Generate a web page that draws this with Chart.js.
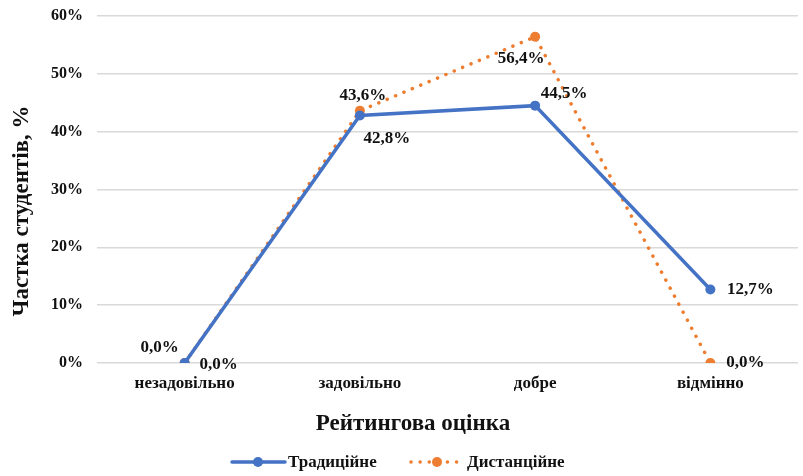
<!DOCTYPE html>
<html>
<head>
<meta charset="utf-8">
<script src="https://cdn.jsdelivr.net/npm/chart.js@4"></script>
<style>
  html, body { margin: 0; padding: 0; background: #fff; }
  #wrap { width: 803px; height: 476px; position: relative; }
</style>
</head>
<body>
<div id="wrap"><canvas id="c"></canvas></div>
<script>
const categories = ['незадовільно', 'задовільно', 'добре', 'відмінно'];
const traditional = [0.0, 42.8, 44.5, 12.7];
const distance = [0.0, 43.6, 56.4, 0.0];
const seriesNames = ['Традиційне', 'Дистанційне'];
const yTicks = [0, 10, 20, 30, 40, 50, 60];
const xTitle = 'Рейтингова оцінка';
const yTitle = 'Частка студентів, %';

const BLUE = '#4472C4';
const ORANGE = '#ED7D31';
const INK = '#111';
const SERIF = '"Liberation Serif", "Times New Roman", serif';

// value label offsets from each point: [dx, dy]
const labelPos = [
  [[-25, -15], [27, 23], [29, -12], [40, 0]],
  [[34, 2], [3, -15], [-14, 22], [35, 0]]
];

const fmt = v => v.toFixed(1).replace('.', ',') + '%';

const dataLabels = {
  id: 'dataLabels',
  afterDatasetsDraw(chart) {
    const ctx = chart.ctx;
    ctx.save();
    ctx.font = 'bold 17px ' + SERIF;
    ctx.fillStyle = INK;
    ctx.textAlign = 'center';
    ctx.textBaseline = 'middle';
    chart.data.datasets.forEach((ds, di) => {
      chart.getDatasetMeta(di).data.forEach((pt, i) => {
        const [dx, dy] = labelPos[di][i];
        ctx.fillText(fmt(ds.data[i]), pt.x + dx, pt.y + dy);
      });
    });
    ctx.restore();
  }
};

// axis titles and the legend (line + marker swatches)
const decorations = {
  id: 'decorations',
  afterDraw(chart) {
    const ctx = chart.ctx;
    ctx.save();
    ctx.fillStyle = INK;
    ctx.font = 'bold 23px ' + SERIF;
    ctx.textAlign = 'center';
    ctx.textBaseline = 'middle';
    ctx.fillText(xTitle, 413, 424);
    ctx.save();
    ctx.translate(22, 211);
    ctx.rotate(-Math.PI / 2);
    ctx.fillText(yTitle, 0, 0);
    ctx.restore();

    const y = 462;
    const items = [
      { x: 232, color: BLUE, dash: [], label: seriesNames[0] },
      { x: 411, color: ORANGE, dash: [0.1, 9], label: seriesNames[1] }
    ];
    items.forEach(it => {
      ctx.strokeStyle = it.color;
      ctx.lineWidth = 3.5;
      ctx.lineCap = 'round';
      ctx.setLineDash(it.dash);
      ctx.beginPath();
      ctx.moveTo(it.x, y);
      ctx.lineTo(it.x + 53, y);
      ctx.stroke();
      ctx.setLineDash([]);
      ctx.fillStyle = it.color;
      ctx.beginPath();
      ctx.arc(it.x + 26, y, 5, 0, Math.PI * 2);
      ctx.fill();
      ctx.fillStyle = INK;
      ctx.font = 'bold 17px ' + SERIF;
      ctx.textAlign = 'left';
      ctx.fillText(it.label, it.x + 56, y + 1);
    });
    ctx.restore();
  }
};

new Chart(document.getElementById('c'), {
  type: 'line',
  data: {
    labels: categories,
    datasets: [
      {
        label: seriesNames[0],
        data: traditional,
        borderColor: BLUE,
        backgroundColor: BLUE,
        borderWidth: 3.5,
        pointRadius: 5,
        pointHoverRadius: 5,
        pointBorderWidth: 0,
        tension: 0
      },
      {
        label: seriesNames[1],
        data: distance,
        borderColor: ORANGE,
        backgroundColor: ORANGE,
        borderWidth: 3.5,
        borderDash: [0.1, 9],
        borderCapStyle: 'round',
        pointRadius: 5,
        pointHoverRadius: 5,
        pointBorderWidth: 0,
        tension: 0
      }
    ]
  },
  options: {
    responsive: true,
    maintainAspectRatio: false,
    animation: false,
    layout: { padding: { top: 16, right: 3, bottom: 0, left: 0 } },
    plugins: {
      legend: { display: false },
      tooltip: { enabled: false }
    },
    scales: {
      x: {
        offset: true,
        grid: { display: false },
        border: { display: false },
        ticks: { color: INK, font: { family: SERIF, size: 17, weight: 'bold' }, padding: 2, maxRotation: 0 },
        afterFit(axis) { axis.height = 113; }
      },
      y: {
        min: 0,
        max: 60,
        afterBuildTicks(axis) { axis.ticks = yTicks.map(v => ({ value: v })); },
        grid: { color: '#d9d9d9', lineWidth: 1.5, drawTicks: false },
        border: { display: false },
        ticks: { color: INK, font: { family: SERIF, size: 16, weight: 'bold' }, padding: 14, callback: v => v + '%' },
        afterFit(axis) {
          axis.width = 97;
          axis.paddingTop = 0;
          axis.paddingBottom = 0;
        }
      }
    }
  },
  plugins: [dataLabels, decorations]
});
</script>
</body>
</html>
